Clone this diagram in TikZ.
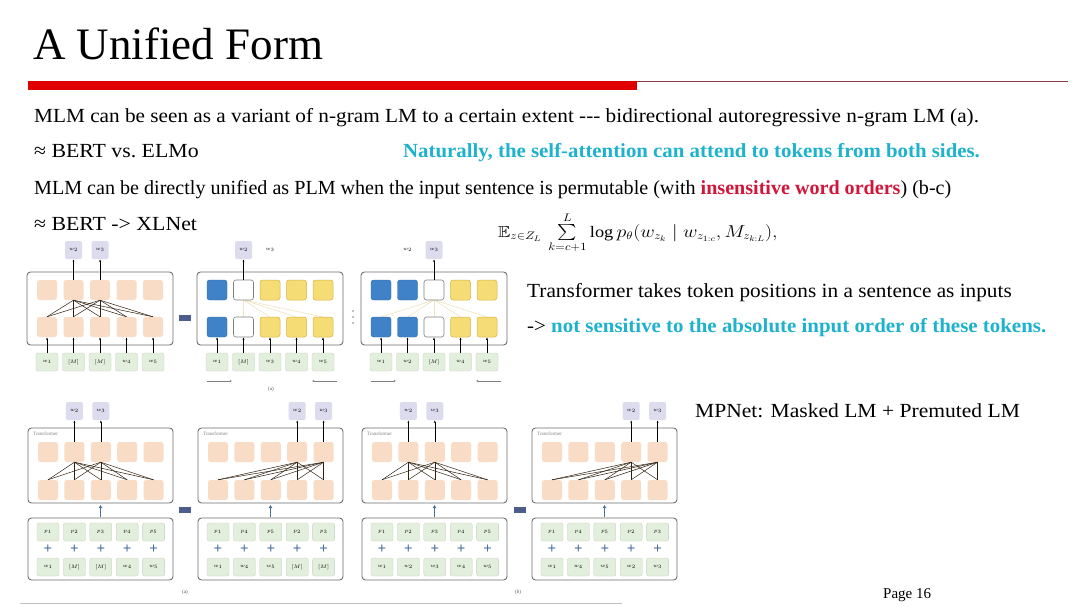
\documentclass[tikz,border=0pt]{standalone}
\usepackage{amsmath,amssymb}
\usepackage{graphicx}
\usepackage{fontspec}
\setmainfont{Liberation Serif}
\usetikzlibrary{arrows.meta}
\definecolor{barred}{HTML}{E00000}
\definecolor{thinred}{HTML}{8A3A48}
\definecolor{cyantext}{HTML}{1EB2CC}
\definecolor{redtext}{HTML}{D0163A}
\definecolor{peach}{HTML}{F9DCC6}
\definecolor{lav}{HTML}{DCDCEE}
\definecolor{ingreen}{HTML}{E3EFDD}
\definecolor{tokblue}{HTML}{4082C8}
\definecolor{tokyellow}{HTML}{F6DC74}
\definecolor{yedge}{HTML}{D4B44C}
\definecolor{boxgray}{HTML}{6E6E6E}
\definecolor{eqblue}{HTML}{4C5C8C}
\definecolor{plusblue}{HTML}{4A6E9E}
\tikzset{
 body/.style={font=\fontsize{20}{22}\selectfont, anchor=base west, inner sep=0},
 panel/.style={draw=boxgray, line width=0.9, rounded corners=3.5},
 sq/.style={rounded corners=2.5, minimum width=20, minimum height=20, inner sep=0},
 peachsq/.style={sq, fill=peach},
 bluesq/.style={sq, fill=tokblue, draw=tokblue!80!black, line width=0.4},
 whitesq/.style={sq, fill=white, draw=gray, line width=0.6},
 yellowsq/.style={sq, fill=tokyellow, draw=yedge, line width=0.5},
 outtok/.style={rounded corners=2, fill=lav, minimum width=17, minimum height=18, inner sep=0, font=\fontsize{5.5}{6}\selectfont},
 plaintok/.style={inner sep=0, font=\fontsize{5.5}{6}\selectfont},
 intok/.style={rounded corners=2, fill=ingreen, draw=ingreen!70!gray, line width=0.3, minimum width=22, minimum height=18, inner sep=0, font=\fontsize{5.5}{6}\selectfont},
 arr/.style={-{Latex[length=2.5,width=2]}, line width=0.6, black},
 att/.style={line width=0.5, black!75!brown},
 faint/.style={line width=0.6, yedge!35},
 eqbar/.style={fill=eqblue, minimum width=12, minimum height=6, inner sep=0},
 tiny/.style={inner sep=0, font=\fontsize{5}{6}\selectfont, text=gray},
 plussign/.style={inner sep=0, font=\fontsize{15}{15}\selectfont\bfseries, text=plusblue},
 uparr/.style={-{Latex[length=3,width=4]}, line width=1.4, plusblue},
 dirarr/.style={-{Latex[length=2,width=2]}, line width=0.4, gray},
}
\begin{document}
\begin{tikzpicture}[x=1pt,y=-1pt]
\useasboundingbox (0,0) rectangle (1080,607);
\fill[white] (0,0) rectangle (1080,607);
% title
\node[anchor=base west, inner sep=0, font=\fontsize{45}{50}\selectfont] (title) at (33,60) {A Unified Form};
\fill[barred] (28,81) rectangle (637,90);
\draw[thinred, line width=1] (637,82) -- (1068,82);
% text lines
\node[body] (l1) at (34,123) {\scalebox{1.062}[1]{MLM can be seen as a variant of n-gram LM to a certain extent {-}\kern0pt{-}\kern0pt{-} bidirectional autoregressive n-gram LM (a).}};
\node[body] (l2) at (34,158) {\scalebox{1.09}[1]{≈ BERT vs.\ ELMo}};
\node[body, text=cyantext, font=\fontsize{20}{22}\selectfont\bfseries] (l2b) at (403,158) {\scalebox{1.042}[1]{Naturally, the self-attention can attend to tokens from both sides.}};
\node[body] (l3) at (34,195) {\scalebox{1.005}[1]{MLM can be directly unified as PLM when the input sentence is permutable (with \textcolor{redtext}{\bfseries insensitive word orders}) (b-c)}};
\node[body] (l4) at (34,231) {\scalebox{1.09}[1]{≈ BERT -> XLNet}};
\node[anchor=base west, inner sep=0, font=\fontsize{16}{18}\selectfont] (formula) at (498,237) {\scalebox{1.15}[1]{$\mathbb{E}_{z\in Z_L}\,\sum\limits_{k=c+1}^{L}\log p_\theta(w_{z_k}\mid w_{z_{1:c}}, M_{z_{k:L}}),$}};
\node[body] (t1) at (527,297) {\scalebox{1.063}[1]{Transformer takes token positions in a sentence as inputs}};
\node[body] (t2) at (527,332) {\scalebox{1.046}[1]{-> \textcolor{cyantext}{\bfseries not sensitive to the absolute input order of these tokens.}}};
\node[body] (mp) at (695,417) {\scalebox{1.078}[1]{MPNet: Masked LM + Premuted LM}};
\node[anchor=base west, inner sep=0, font=\fontsize{15}{16}\selectfont] (page) at (883,598) {Page 16};
\draw[gray!50, line width=1] (20,603) -- (622,603);

% ===== top row panel (a) =====
\draw[panel] (27,272) rectangle ++(146,73);
\foreach \i/\lab in {1/w_1,2/[M],3/[M],4/w_4,5/w_5}{
  \node[peachsq] (a-t\i) at ({47+26.5*(\i-1)},290) {};
  \node[peachsq] (a-b\i) at ({47+26.5*(\i-1)},327) {};
  \node[intok] (a-in\i) at ({47+26.5*(\i-1)},362) {$\lab$};
  \draw[arr] (a-in\i) -- (a-b\i);
}
\node[outtok] (a-o2) at (73.5,250) {$w_2$};
\node[outtok] (a-o3) at (100,250) {$w_3$};
\draw[arr] (a-t2) -- (a-o2);
\draw[arr] (a-t3) -- (a-o3);
\foreach \j in {2,3}{\foreach \k in {1,...,5}{\draw[att] (a-t\j.south) -- (a-b\k.north);}}
\node[eqbar] (eq1) at (185,318) {};

% ===== top row panel (b) =====
\draw[panel] (197,272) rectangle ++(146,73);
\foreach \i/\s/\lab in {1/bluesq/w_1,2/whitesq/[M],3/yellowsq/w_3,4/yellowsq/w_4,5/yellowsq/w_5}{
  \node[intok] (b-in\i) at ({217+26.5*(\i-1)},362) {$\lab$};
}
\draw[faint] (217+26.5,300) -- (217+26.5,317);
\foreach \k in {3,4,5}{\draw[faint] (243.5,300) -- ({217+26.5*(\k-1)},317);}
\foreach \i/\s in {1/bluesq,2/whitesq,3/yellowsq,4/yellowsq,5/yellowsq}{
  \node[\s] (b-t\i) at ({217+26.5*(\i-1)},290) {};
  \node[\s] (b-b\i) at ({217+26.5*(\i-1)},327) {};
  \draw[arr] (b-in\i) -- (b-b\i);
}
\node[outtok] (b-o2) at (243.5,250) {$w_2$};
\node[plaintok] (b-o3) at (270,250) {$w_3$};
\draw[arr] (b-t2) -- (b-o2);
\coordinate (b-d1s) at (207,381); \coordinate (b-d1e) at (232,381);
\coordinate (b-d2s) at (337,381); \coordinate (b-d2e) at (312,381);
\draw[dirarr] (b-d1s) -- (b-d1e);
\draw[dirarr] (b-d2s) -- (b-d2e);
\node[tiny, text=black!70] (capa) at (271,389) {(a)};
\foreach \d in {1,2,3}{\fill[gray] (353,{311+6*(\d-1)}) circle (0.9);}

% ===== top row panel (c) =====
\draw[panel] (361,272) rectangle ++(146,73);
\foreach \i/\lab in {1/w_1,2/w_2,3/[M],4/w_4,5/w_5}{
  \node[intok] (c-in\i) at ({381+26.5*(\i-1)},362) {$\lab$};
}
\foreach \k in {1,2,3,4,5}{\draw[faint] (434,300) -- ({381+26.5*(\k-1)},317);}
\foreach \i/\s in {1/bluesq,2/bluesq,3/whitesq,4/yellowsq,5/yellowsq}{
  \node[\s] (c-t\i) at ({381+26.5*(\i-1)},290) {};
  \node[\s] (c-b\i) at ({381+26.5*(\i-1)},327) {};
  \draw[arr] (c-in\i) -- (c-b\i);
}
\node[plaintok] (c-o2) at (407.5,250) {$w_2$};
\node[outtok] (c-o3) at (434,250) {$w_3$};
\draw[arr] (c-t3) -- (c-o3);
\coordinate (c-d1s) at (371,381); \coordinate (c-d1e) at (396,381);
\coordinate (c-d2s) at (501,381); \coordinate (c-d2e) at (476,381);
\draw[dirarr] (c-d1s) -- (c-d1e);
\draw[dirarr] (c-d2s) -- (c-d2e);

% ===== bottom row =====
\foreach \n/\ox/\plist/\wlist/\oa/\ob in {
  p/28/{p_1,p_2,p_3,p_4,p_5}/{w_1,[M],[M],w_4,w_5}/2/3,
  q/198/{p_1,p_4,p_5,p_2,p_3}/{w_1,w_4,w_5,[M],[M]}/4/5,
  r/362/{p_1,p_2,p_3,p_4,p_5}/{w_1,w_2,w_3,w_4,w_5}/2/3,
  s/532/{p_1,p_4,p_5,p_2,p_3}/{w_1,w_4,w_5,w_2,w_3}/4/5}{
  \draw[panel] (\ox,428) rectangle ++(145,75);
  \draw[panel] (\ox,518) rectangle ++(145,62);
  \node[tiny, anchor=north west] (\n-lbl) at (\ox+5,432) {Transformer};
  \foreach \i in {1,...,5}{
    \node[peachsq] (\n-t\i) at ({\ox+20+26.4*(\i-1)},452) {};
    \node[peachsq] (\n-b\i) at ({\ox+20+26.4*(\i-1)},490) {};
    \node[plussign] (\n-plus\i) at ({\ox+20+26.4*(\i-1)},549) {+};
  }
  \foreach \lab [count=\i] in \plist {
    \node[intok] (\n-p\i) at ({\ox+20+26.4*(\i-1)},532) {$\lab$};
  }
  \foreach \lab [count=\i] in \wlist {
    \node[intok] (\n-w\i) at ({\ox+20+26.4*(\i-1)},567) {$\lab$};
  }
  \node[outtok] (\n-oa) at ({\ox+20+26.4*(\oa-1)},411) {$w_2$};
  \node[outtok] (\n-ob) at ({\ox+20+26.4*(\ob-1)},411) {$w_3$};
  \draw[arr] (\n-t\oa) -- (\n-oa);
  \draw[arr] (\n-t\ob) -- (\n-ob);
  \foreach \k in {1,...,5}{
    \draw[att] (\n-t\oa.south) -- (\n-b\k.north);
    \draw[att] (\n-t\ob.south) -- (\n-b\k.north);
  }
  \coordinate (\n-as) at (\ox+72.5,517);
  \coordinate (\n-ae) at (\ox+72.5,505);
  \draw[uparr] (\n-as) -- (\n-ae);
}
\node[eqbar] (eq2) at (185,510) {};
\node[eqbar] (eq3) at (520,510) {};
\node[tiny, text=black!70] (capb1) at (185,592) {(a)};
\node[tiny, text=black!70] (capb2) at (518,592) {(b)};
\end{tikzpicture}
\end{document}
